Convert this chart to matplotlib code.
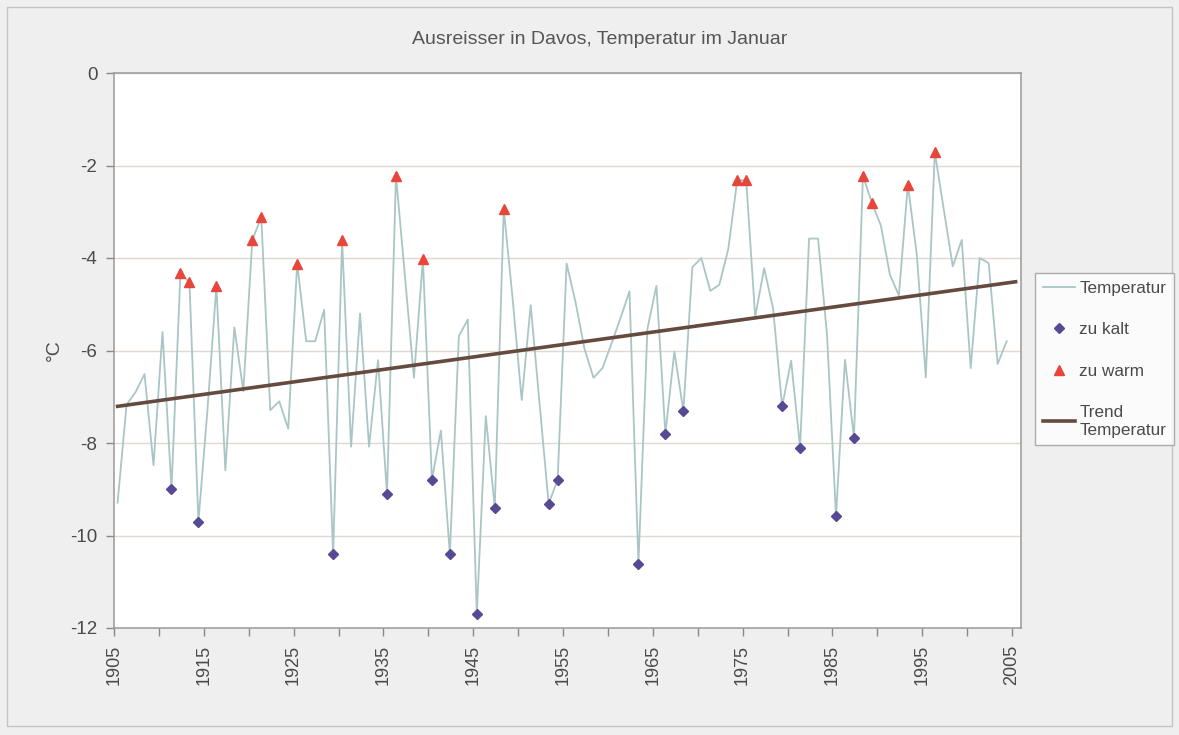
#!/usr/bin/env python3
import numpy as np
import matplotlib
matplotlib.use("Agg")
import matplotlib.pyplot as plt
from matplotlib.patches import Rectangle

# January temperatures in Davos, 1905-2004
years = list(range(1905, 2005))
temps = [
    -9.29, -7.17, -6.90, -6.51, -8.48, -5.60, -8.99, -4.33, -4.52, -9.70,   # 1905-1914
    -7.30, -4.61, -8.59, -5.50, -6.88, -3.61, -3.12, -7.29, -7.10, -7.69,   # 1915-1924
    -4.12, -5.80, -5.80, -5.12, -10.41, -3.61, -8.08, -5.20, -8.08, -6.21,  # 1925-1934
    -9.10, -2.22, -4.40, -6.59, -4.02, -8.80, -7.73, -10.41, -5.69, -5.33,  # 1935-1944
    -11.70, -7.42, -9.40, -2.94, -4.90, -7.07, -5.02, -7.17, -9.31, -8.80,  # 1945-1954
    -4.12, -4.96, -5.97, -6.59, -6.38, -5.85, -5.30, -4.72, -10.61, -5.53,  # 1955-1964
    -4.60, -7.80, -6.02, -7.31, -4.20, -4.00, -4.71, -4.58, -3.81, -2.32,   # 1965-1974
    -2.32, -5.27, -4.22, -5.10, -7.21, -6.22, -8.10, -3.58, -3.58, -5.66,   # 1975-1984
    -9.58, -6.20, -7.89, -2.22, -2.81, -3.30, -4.36, -4.81, -2.42, -3.93,   # 1985-1994
    -6.58, -1.71, -2.95, -4.18, -3.61, -6.38, -4.00, -4.11, -6.29, -5.80,   # 1995-2004
]

cold_years = [1911, 1914, 1929, 1935, 1940, 1942, 1945, 1947, 1953, 1954,
              1963, 1966, 1968, 1979, 1981, 1985, 1987]
warm_years = [1912, 1913, 1916, 1920, 1921, 1925, 1930, 1936, 1939, 1948,
              1974, 1975, 1988, 1989, 1993, 1996]

xtick_years = list(range(1905, 2006, 5))
xtick_labels = [str(y) if (y - 1905) % 10 == 0 else "" for y in xtick_years]
ytick_values = [0, -2, -4, -6, -8, -10, -12]

plt.rcParams["font.family"] = ["Liberation Sans", "DejaVu Sans"]

# Excel category axis: points sit in the middle of each year slot
OFFSET = 0.4
t = dict(zip(years, temps))
x = np.array(years) + OFFSET

fig = plt.figure(figsize=(11.79, 7.35), dpi=100, facecolor="#efefef")
ax = fig.add_axes([114 / 1179, 1 - 628 / 735, (1021 - 114) / 1179, (628 - 73) / 735])
ax.set_facecolor("white")

txt = "#4a4a4a"

ax.plot(x, temps, color="#a9c6c5", lw=1.3, label="Temperatur", zorder=3)
ax.plot(np.array(cold_years) + OFFSET, [t[y] for y in cold_years], ls="none",
        marker="D", ms=5.5, color="#564a94", label="zu kalt", zorder=4)
ax.plot(np.array(warm_years) + OFFSET, [t[y] for y in warm_years], ls="none",
        marker="^", ms=7.5, color="#e8463a", label="zu warm", zorder=4)

# linear trend, extended one period forward like Excel
coef = np.polyfit(x, temps, 1)
xt = np.array([x[0], x[-1] + 1])
ax.plot(xt, np.polyval(coef, xt), color="#654a40", lw=2.6,
        label="Trend\nTemperatur", zorder=5)

ax.set_xlim(1905, 2006)
ax.set_ylim(-12, 0)
ax.set_xticks(xtick_years)
ax.set_xticklabels(xtick_labels, rotation=90, fontsize=13, color=txt)
ax.set_yticks(ytick_values)
ax.set_yticklabels([str(v) for v in ytick_values], fontsize=13.5, color=txt)
ax.tick_params(axis="both", direction="out", length=6, color="#888888", width=1)
ax.tick_params(axis="x", pad=6)
ax.tick_params(axis="y", pad=6)
ax.grid(axis="y", color="#e2d8d2", lw=1)
for s in ax.spines.values():
    s.set_color("#9a9a9a")
    s.set_linewidth(1.1)

ax.set_ylabel("°C", fontsize=14, color=txt, labelpad=5)
fig.text(600 / 1179, 1 - 40 / 735, "Ausreisser in Davos, Temperatur im Januar",
         ha="center", va="center", fontsize=14, color="#555555")

leg = fig.legend(loc="upper left", bbox_to_anchor=(1035 / 1179, 1 - 273 / 735),
                 borderaxespad=0, fontsize=12.3, frameon=True, fancybox=False,
                 handlelength=1.9, labelspacing=1.55, borderpad=0.45,
                 handletextpad=0.25)
leg.get_frame().set_edgecolor("#9a9a9a")
leg.get_frame().set_linewidth(1)
for tx in leg.get_texts():
    tx.set_color(txt)

# thin outer chart border
fig.patches.append(Rectangle((7 / 1179, 0.012), 1 - 14 / 1179, 1 - 7 / 735 - 0.012,
                             transform=fig.transFigure, fill=False,
                             edgecolor="#c4c4c4", lw=1))

fig.savefig("out.png", dpi=100, facecolor=fig.get_facecolor())
plt.close(fig)
